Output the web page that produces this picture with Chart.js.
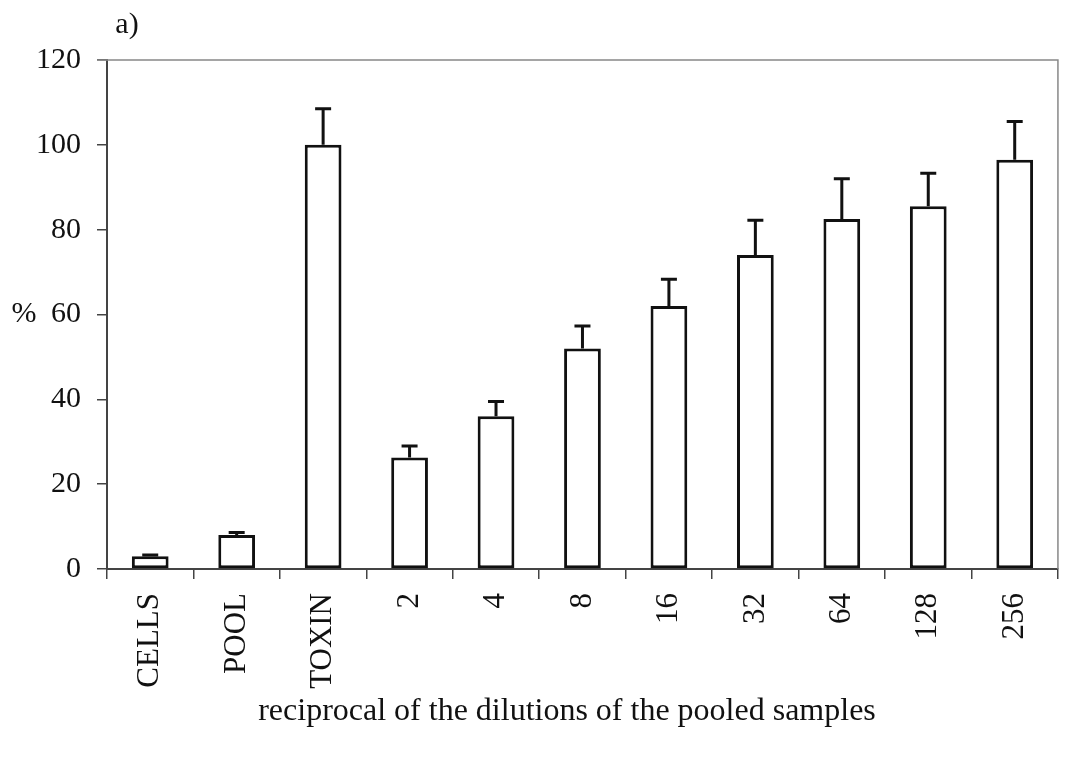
<!DOCTYPE html>
<html lang="en">
<head>
<meta charset="UTF-8">
<title>Dilutions of the pooled samples</title>
<script src="https://cdn.jsdelivr.net/npm/chart.js"></script>
<style>
    body { margin: 0; background: #fff; }
    .wrap { width: 1066px; height: 760px; }
</style>
</head>
<body>
<div class="wrap">
    <canvas id="myChart"></canvas>
</div>
<script>
    // valores
    var categorias = ['CELLS', 'POOL', 'TOXIN', '2', '4', '8', '16', '32', '64', '128', '256'];
    var valores = [3, 8, 100, 26.3, 36, 52, 62, 74, 82.5, 85.5, 96.5];
    var erros = [0.3, 0.6, 8.5, 2.7, 3.5, 5.3, 6.3, 8.2, 9.5, 7.8, 9];
    var ticksY = [0, 20, 40, 60, 80, 100, 120];
    var tituloX = 'reciprocal of the dilutions of the pooled samples';

    var fonte = "'Liberation Serif', 'Times New Roman', serif";

    // barras de erro, moldura e textos soltos
    const extras = {
        id: 'extras',
        afterDatasetsDraw(chart) {
            const ctx = chart.ctx;
            const x = chart.scales.x;
            const y = chart.scales.y;
            const area = chart.chartArea;

            ctx.save();
            ctx.strokeStyle = '#111';
            ctx.lineWidth = 3;
            for (var i = 0; i < valores.length; i++) {
                var px = x.getPixelForValue(i);
                var yTopo = y.getPixelForValue(valores[i]);
                var yErro = y.getPixelForValue(valores[i] + erros[i]);
                ctx.beginPath();
                ctx.moveTo(px, yTopo);
                ctx.lineTo(px, yErro);
                ctx.moveTo(px - 8, yErro);
                ctx.lineTo(px + 8, yErro);
                ctx.stroke();
            }

            // moldura de cima e da direita
            ctx.strokeStyle = '#888';
            ctx.lineWidth = 1.5;
            ctx.beginPath();
            ctx.moveTo(area.left - 10, area.top);
            ctx.lineTo(area.right, area.top);
            ctx.lineTo(area.right, area.bottom);
            ctx.stroke();

            ctx.fillStyle = '#111';
            ctx.font = '30px ' + fonte;
            ctx.textAlign = 'center';
            ctx.textBaseline = 'middle';
            ctx.fillText('%', 24, (area.top + area.bottom) / 2);
            ctx.fillText('a)', 127, 25);

            // titulo do eixo x (um pouco a esquerda do centro, como no original)
            ctx.font = '32px ' + fonte;
            ctx.fillText(tituloX, 567, 712);
            ctx.restore();
        }
    };

    const ctx = document.getElementById('myChart').getContext('2d');
    const myChart = new Chart(ctx, {
        type: 'bar',
        data: {
            labels: categorias,
            datasets: [{
                data: valores,
                backgroundColor: '#ffffff',
                borderColor: '#111111',
                borderWidth: 3,
                borderSkipped: false,
                barPercentage: 0.425,
                categoryPercentage: 1
            }]
        },
        options: {
            responsive: true,
            maintainAspectRatio: false,
            animation: false,
            layout: { padding: { top: 60, right: 2, left: 0, bottom: 0 } },
            plugins: {
                legend: { display: false },
                tooltip: { enabled: false }
            },
            scales: {
                y: {
                    min: 0,
                    max: 120,
                    afterFit: function (scale) { scale.width = 107; },
                    afterBuildTicks: function (scale) {
                        scale.ticks = ticksY.map(function (v) { return { value: v }; });
                    },
                    border: { display: true, color: '#444', width: 2 },
                    grid: {
                        drawOnChartArea: false,
                        drawTicks: true,
                        tickLength: 10,
                        color: '#444',
                        lineWidth: 1.5
                    },
                    ticks: {
                        padding: 16,
                        color: '#111',
                        font: { family: fonte, size: 30 }
                    }
                },
                x: {
                    afterFit: function (scale) { scale.height = 191; },
                    border: { display: true, color: '#444', width: 2 },
                    grid: {
                        offset: true,
                        drawOnChartArea: false,
                        drawTicks: true,
                        tickLength: 10,
                        color: '#444',
                        lineWidth: 1.5
                    },
                    ticks: {
                        minRotation: 90,
                        maxRotation: 90,
                        autoSkip: false,
                        padding: 14,
                        color: '#111',
                        font: { family: fonte, size: 31 }
                    }
                }
            }
        },
        plugins: [extras]
    });
</script>
</body>
</html>
